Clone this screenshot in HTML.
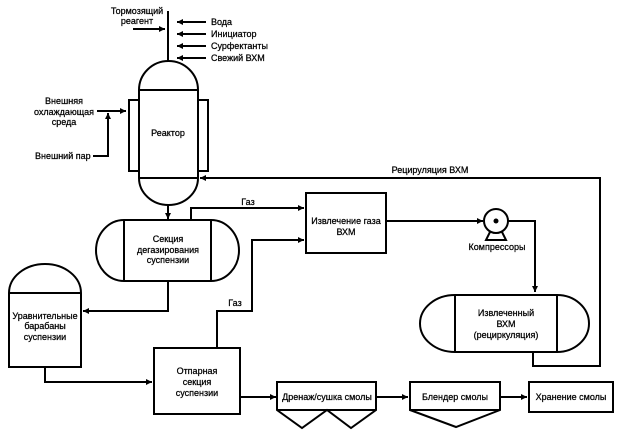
<!DOCTYPE html>
<html><head><meta charset="utf-8"><style>
html,body{margin:0;padding:0;background:#fff;}
svg{display:block;}
text{font-family:"Liberation Sans",sans-serif;font-size:9px;fill:#000;stroke:#000;stroke-width:0.25;}
</style></head><body>
<svg width="622" height="438" viewBox="0 0 622 438" xmlns="http://www.w3.org/2000/svg">
<defs>
<marker id="a" viewBox="0 0 10 10" refX="10" refY="5" markerWidth="8" markerHeight="6" orient="auto" markerUnits="userSpaceOnUse"><path d="M0,0 L10,5 L0,10 z" fill="#000"/></marker>
</defs>
<g fill="none" stroke="#000" stroke-width="2">
<path d="M139,90 L139,178 A29.5,27 0 0 0 198,178 L198,90 A29.5,29 0 0 0 139,90 Z" fill="#fff"/>
<line x1="139" y1="90" x2="198" y2="90"/>
<line x1="139" y1="178" x2="198" y2="178"/>
<rect x="129" y="100" width="10" height="71"/>
<rect x="198" y="100" width="10" height="71"/>
<line x1="168" y1="11" x2="168" y2="61"/>
<line x1="206" y1="22" x2="177" y2="22" marker-end="url(#a)"/>
<line x1="206" y1="34" x2="177" y2="34" marker-end="url(#a)"/>
<line x1="206" y1="46" x2="177" y2="46" marker-end="url(#a)"/>
<line x1="206" y1="58" x2="177" y2="58" marker-end="url(#a)"/>
<line x1="133" y1="29" x2="165" y2="29" marker-end="url(#a)"/>
<line x1="97" y1="111" x2="126" y2="111" marker-end="url(#a)"/>
<polyline points="93,156 108,156 108,113" marker-end="url(#a)"/>
<polyline points="533,352 533,366 600,366 600,178 200,178" marker-end="url(#a)"/>
<line x1="168" y1="205" x2="168" y2="219" marker-end="url(#a)"/>
<path d="M124,220 L211,220 A28,30.5 0 0 1 211,281 L124,281 A28,30.5 0 0 1 124,220 Z"/>
<line x1="124" y1="220" x2="124" y2="281"/>
<line x1="211" y1="220" x2="211" y2="281"/>
<polyline points="191,220 191,208 304,208" marker-end="url(#a)"/>
<rect x="306" y="193" width="80" height="60"/>
<polyline points="217,348 217,311 252,311 252,240 304,240" marker-end="url(#a)"/>
<line x1="386" y1="221" x2="483" y2="221" marker-end="url(#a)"/>
<circle cx="496" cy="221" r="12"/>
<path d="M490,232 L486,240 L506,240 L502,232"/>
<polyline points="508,221 535,221 535,292" marker-end="url(#a)"/>
<path d="M455,295 L557,295 A32,28.5 0 0 1 557,352 L455,352 A35,28.5 0 0 1 455,295 Z"/>
<line x1="455" y1="295" x2="455" y2="352"/>
<line x1="557" y1="295" x2="557" y2="352"/>
<path d="M9,367 L9,293 A36,29 0 0 1 81,293 L81,367 Z"/>
<line x1="9" y1="293" x2="81" y2="293"/>
<polyline points="168,281 168,311 83,311" marker-end="url(#a)"/>
<polyline points="45,367 45,382 152,382" marker-end="url(#a)"/>
<rect x="154" y="348" width="86" height="66"/>
<line x1="240" y1="397" x2="276" y2="397" marker-end="url(#a)"/>
<path d="M277,382 L376,382 L376,410 L351,428 L327,410 L302,428 L277,410 Z"/>
<line x1="277" y1="410" x2="376" y2="410"/>
<line x1="376" y1="397" x2="408" y2="397" marker-end="url(#a)"/>
<path d="M410,382 L500,382 L500,410 L456,427 L410,410 Z"/>
<line x1="410" y1="410" x2="500" y2="410"/>
<line x1="500" y1="397" x2="527" y2="397" marker-end="url(#a)"/>
<rect x="529" y="382" width="84" height="30"/>
</g>
<circle cx="496" cy="221" r="2.5" fill="#000"/>
<text x="137" y="14" text-anchor="middle">Тормозящий</text>
<text x="137" y="24" text-anchor="middle">реагент</text>
<text x="211" y="25">Вода</text>
<text x="211" y="37">Инициатор</text>
<text x="211" y="49">Сурфектанты</text>
<text x="211" y="61">Свежий ВХМ</text>
<text x="64" y="104" text-anchor="middle">Внешняя</text>
<text x="64" y="115" text-anchor="middle">охлаждающая</text>
<text x="64" y="125" text-anchor="middle">среда</text>
<text x="35" y="159">Внешний пар</text>
<text x="168" y="136" text-anchor="middle">Реактор</text>
<text x="430" y="173" text-anchor="middle">Рецируляция ВХМ</text>
<text x="248" y="205" text-anchor="middle">Газ</text>
<text x="168" y="242" text-anchor="middle">Секция</text>
<text x="168" y="253" text-anchor="middle">дегазирования</text>
<text x="168" y="263" text-anchor="middle">суспензии</text>
<text x="346" y="224" text-anchor="middle">Извлечение газа</text>
<text x="346" y="235" text-anchor="middle">ВХМ</text>
<text x="497" y="250" text-anchor="middle">Компрессоры</text>
<text x="235" y="306" text-anchor="middle">Газ</text>
<text x="506" y="316" text-anchor="middle">Извлеченный</text>
<text x="506" y="327" text-anchor="middle">ВХМ</text>
<text x="506" y="338" text-anchor="middle">(рециркуляция)</text>
<text x="45" y="319" text-anchor="middle">Уравнительные</text>
<text x="45" y="329" text-anchor="middle">барабаны</text>
<text x="45" y="340" text-anchor="middle">суспензии</text>
<text x="197" y="374" text-anchor="middle">Отпарная</text>
<text x="197" y="385" text-anchor="middle">секция</text>
<text x="197" y="396" text-anchor="middle">суспензии</text>
<text x="327" y="400" text-anchor="middle">Дренаж/сушка смолы</text>
<text x="455" y="400" text-anchor="middle">Блендер смолы</text>
<text x="571" y="400" text-anchor="middle">Хранение смолы</text>
</svg>
</body></html>
